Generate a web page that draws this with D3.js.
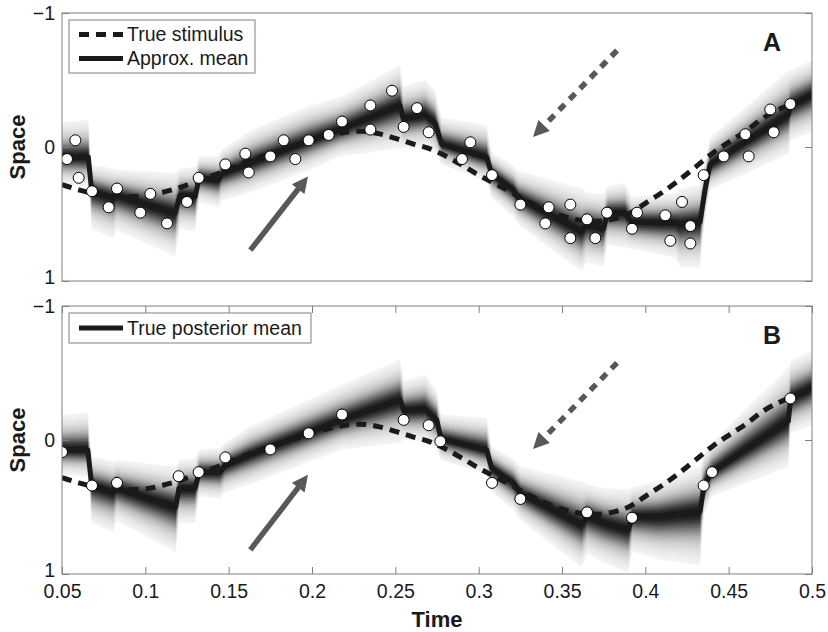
<!DOCTYPE html>
<html><head><meta charset="utf-8">
<script src="https://cdn.jsdelivr.net/npm/d3@7"></script>
<style>
body{margin:0;background:#fff}
text{font-family:"Liberation Sans",Arial,Helvetica,sans-serif}
</style>
</head><body>
<svg id="c" width="828" height="632"></svg>
<script>
// ---------------- data ----------------
const timeTicks = [0.05,0.1,0.15,0.2,0.25,0.3,0.35,0.4,0.45,0.5];
const spaceTicks = [-1,0,1];

// true stimulus (dashed)
const stimT = [0.050,0.060,0.070,0.080,0.090,0.100,0.110,0.120,0.130,0.140,0.150,0.160,0.170,0.180,0.190,0.200,0.210,0.220,0.230,0.240,0.250,0.260,0.270,0.280,0.290,0.300,0.310,0.320,0.330,0.340,0.350,0.360,0.370,0.380,0.390,0.400,0.410,0.420,0.430,0.440,0.450,0.460,0.470,0.480,0.487];
const stimV = [0.28,0.32,0.35,0.365,0.37,0.365,0.34,0.305,0.26,0.215,0.165,0.115,0.07,0.03,-0.01,-0.05,-0.085,-0.11,-0.118,-0.10,-0.065,-0.025,0.01,0.066,0.135,0.21,0.275,0.34,0.41,0.47,0.515,0.545,0.555,0.54,0.50,0.42,0.34,0.25,0.15,0.05,-0.035,-0.115,-0.21,-0.28,-0.315];

// panel A observations
const obsAT = [0.053,0.058,0.060,0.068,0.078,0.083,0.097,0.103,0.113,0.125,0.132,0.148,0.160,0.162,0.175,0.183,0.190,0.198,0.210,0.218,0.235,0.235,0.248,0.255,0.263,0.270,0.290,0.295,0.308,0.325,0.340,0.342,0.355,0.355,0.365,0.370,0.377,0.392,0.395,0.412,0.415,0.422,0.427,0.427,0.435,0.447,0.460,0.462,0.475,0.477,0.487];
const obsAV = [0.09,-0.05,0.23,0.33,0.45,0.31,0.49,0.35,0.57,0.41,0.23,0.13,0.05,0.19,0.07,-0.05,0.09,-0.05,-0.09,-0.19,-0.31,-0.13,-0.42,-0.15,-0.29,-0.11,0.09,-0.035,0.21,0.43,0.57,0.45,0.43,0.68,0.54,0.68,0.49,0.61,0.49,0.51,0.70,0.41,0.59,0.72,0.21,0.07,-0.095,0.07,-0.28,-0.11,-0.32];

// panel A approximate mean and band extents (above / below the mean)
const meanAT = [0.050,0.0658,0.0678,0.0808,0.0828,0.1178,0.1208,0.1298,0.1324,0.1438,0.1458,0.1628,0.1978,0.2168,0.2528,0.2548,0.2678,0.2738,0.2778,0.3048,0.3078,0.3208,0.3238,0.3618,0.3648,0.3748,0.3774,0.3878,0.3918,0.4178,0.4208,0.4328,0.4358,0.4388,0.4858,0.4872,0.500];
const meanAV = [0.077,0.077,0.33,0.38,0.36,0.495,0.36,0.37,0.23,0.25,0.20,0.12,-0.045,-0.13,-0.31,-0.21,-0.24,-0.18,-0.02,0.077,0.20,0.32,0.38,0.63,0.58,0.61,0.49,0.49,0.56,0.565,0.575,0.56,0.32,0.13,-0.24,-0.31,-0.39];
const bandAUp = [0.26,0.28,0.20,0.22,0.19,0.30,0.20,0.22,0.16,0.18,0.18,0.24,0.26,0.24,0.30,0.24,0.26,0.24,0.20,0.24,0.16,0.18,0.20,0.32,0.24,0.26,0.20,0.22,0.19,0.22,0.26,0.28,0.22,0.20,0.33,0.26,0.26];
const bandADown = [0.20,0.22,0.28,0.30,0.26,0.32,0.25,0.26,0.18,0.20,0.20,0.22,0.22,0.20,0.32,0.22,0.24,0.22,0.15,0.18,0.18,0.20,0.20,0.30,0.28,0.28,0.24,0.26,0.20,0.26,0.32,0.34,0.22,0.19,0.29,0.26,0.28];

// panel B observations
const obsBT = [0.050,0.068,0.083,0.120,0.132,0.148,0.175,0.198,0.218,0.255,0.270,0.277,0.308,0.325,0.365,0.392,0.435,0.440,0.487];
const obsBV = [0.09,0.34,0.32,0.27,0.24,0.13,0.07,-0.05,-0.19,-0.15,-0.11,0.01,0.32,0.44,0.54,0.58,0.34,0.24,-0.31];

// panel B true posterior mean and band extents
const meanBT = [0.050,0.0655,0.0678,0.0808,0.0828,0.1182,0.1202,0.1298,0.1324,0.1448,0.1478,0.1628,0.2178,0.2528,0.2552,0.2678,0.2748,0.2774,0.3048,0.3078,0.3208,0.3252,0.3618,0.3652,0.3758,0.3898,0.3922,0.4078,0.4328,0.4352,0.4398,0.4858,0.4872,0.500];
const meanBV = [0.075,0.075,0.34,0.39,0.36,0.50,0.36,0.36,0.24,0.24,0.19,0.11,-0.15,-0.30,-0.22,-0.23,-0.15,-0.01,0.075,0.21,0.32,0.40,0.63,0.57,0.62,0.67,0.57,0.57,0.535,0.34,0.24,-0.14,-0.31,-0.39];
const bandBUp = [0.26,0.28,0.22,0.23,0.21,0.30,0.21,0.22,0.17,0.18,0.17,0.21,0.26,0.30,0.22,0.26,0.22,0.18,0.24,0.16,0.18,0.20,0.32,0.24,0.26,0.30,0.22,0.26,0.34,0.24,0.22,0.40,0.28,0.28];
const bandBDown = [0.18,0.20,0.28,0.30,0.24,0.34,0.26,0.26,0.18,0.20,0.20,0.22,0.22,0.32,0.22,0.24,0.22,0.16,0.18,0.18,0.20,0.20,0.32,0.28,0.30,0.32,0.26,0.32,0.40,0.22,0.18,0.34,0.26,0.28];

// arrow annotations (data coordinates)
const arrowStartT = [0.163, 0.383];
const arrowEndT = [0.1976, 0.3326];
const arrowStartVA = [0.77, -0.72];
const arrowEndVA = [0.22, -0.075];
const arrowStartVB = [0.82, -0.575];
const arrowEndVB = [0.26, 0.067];
const arrowDashed = [false, true];

const legendLabelsA = ["True stimulus", "Approx. mean"];
const legendLabelsB = ["True posterior mean"];

// ---------------- drawing ----------------
const svg = d3.select("#c");
const X0 = 62, X1 = 812;
const FONT = 19.5;
const ink = "#1a1a1a", frameCol = "#808080", arrowCol = "#585858";
const x = d3.scaleLinear().domain([0.05, 0.5]).range([X0, X1]);

const panels = [
  {key:"A", top:13, bottom:281, obsT:obsAT, obsV:obsAV, mT:meanAT, mV:meanAV, up:bandAUp, dn:bandADown,
   aS:arrowStartVA, aE:arrowEndVA, legend:legendLabelsA, legendBox:[69,20,255,73], xAxis:false},
  {key:"B", top:306, bottom:574, obsT:obsBT, obsV:obsBV, mT:meanBT, mV:meanBV, up:bandBUp, dn:bandBDown,
   aS:arrowStartVB, aE:arrowEndVB, legend:legendLabelsB, legendBox:[69,313,311,343], xAxis:true}
];

// band layer opacities approximating the density shading (dark core, light tail)
const NL = 20;
const prof = f => 0.9 * (0.65*Math.exp(-f*f/(2*0.25*0.25)) + 0.35*Math.exp(-f*f/(2*0.5*0.5)));
const layerAlpha = [];
for (let j = 1; j <= NL; j++) {
  const tj = 1 - prof((j-0.5)/NL);
  const tn = j < NL ? 1 - prof((j+0.5)/NL) : 1;
  layerAlpha[j] = 1 - tj/tn;
}

const defs = svg.append("defs");

panels.forEach((p, pi) => {
  const y = d3.scaleLinear().domain([-1, 1]).range([p.top, p.bottom]);
  const g = svg.append("g");
  const clipId = "clip" + p.key;
  defs.append("clipPath").attr("id", clipId).append("rect")
    .attr("x", X0).attr("y", p.top).attr("width", X1-X0).attr("height", p.bottom-p.top);
  const plot = g.append("g").attr("clip-path", `url(#${clipId})`);

  // density band
  const idx = d3.range(p.mT.length);
  for (let j = NL; j >= 1; j--) {
    const k = j / NL;
    const area = d3.area()
      .x(i => x(p.mT[i]))
      .y0(i => y(p.mV[i] - p.up[i]*k))
      .y1(i => y(p.mV[i] + p.dn[i]*k));
    plot.append("path").attr("d", area(idx))
      .attr("fill", "#000").attr("fill-opacity", layerAlpha[j]);
  }

  // true stimulus
  const sIdx = d3.range(stimT.length);
  plot.append("path")
    .attr("d", d3.line().curve(d3.curveMonotoneX).x(i => x(stimT[i])).y(i => y(stimV[i]))(sIdx))
    .attr("fill", "none").attr("stroke", ink).attr("stroke-width", 5)
    .attr("stroke-dasharray", "10,7");

  // mean line
  plot.append("path")
    .attr("d", d3.line().x(i => x(p.mT[i])).y(i => y(p.mV[i]))(idx))
    .attr("fill", "none").attr("stroke", ink).attr("stroke-width", 5)
    .attr("stroke-linejoin", "round");

  // observations
  plot.selectAll("circle.obs").data(d3.range(p.obsT.length)).join("circle")
    .attr("class", "obs")
    .attr("cx", i => x(p.obsT[i])).attr("cy", i => y(p.obsV[i])).attr("r", 5.5)
    .attr("fill", "#fff").attr("stroke", "#000").attr("stroke-width", 1);

  // arrows
  arrowStartT.forEach((t0, ai) => {
    const x0 = x(t0), y0 = y(p.aS[ai]), x1 = x(arrowEndT[ai]), y1 = y(p.aE[ai]);
    const L = Math.hypot(x1-x0, y1-y0), ux = (x1-x0)/L, uy = (y1-y0)/L;
    const hl = 16, hw = 8;
    const bx = x1 - ux*hl, by = y1 - uy*hl;
    g.append("line").attr("x1", x0).attr("y1", y0).attr("x2", bx + ux*2).attr("y2", by + uy*2)
      .attr("stroke", arrowCol).attr("stroke-width", 5.5)
      .attr("stroke-dasharray", arrowDashed[ai] ? "8,7" : null);
    g.append("path")
      .attr("d", `M${x1},${y1}L${bx - uy*hw},${by + ux*hw}L${bx + uy*hw},${by - ux*hw}Z`)
      .attr("fill", arrowCol);
  });

  // frame
  g.append("rect").attr("x", X0).attr("y", p.top).attr("width", X1-X0).attr("height", p.bottom-p.top)
    .attr("fill", "none").attr("stroke", frameCol).attr("stroke-width", 1);

  const styleAxis = sel => {
    sel.select(".domain").remove();
    sel.selectAll(".tick line").attr("stroke", frameCol);
    sel.selectAll(".tick text").attr("fill", ink).style("font-size", FONT + "px")
      .style("font-family", '"Liberation Sans",Arial,sans-serif');
  };
  const fmtY = d3.format("d");
  g.append("g").attr("transform", `translate(${X0},0)`)
    .call(d3.axisLeft(y).tickValues(spaceTicks).tickSize(-7).tickPadding(7).tickFormat(fmtY))
    .call(styleAxis)
    .call(s => s.selectAll(".tick text").attr("dy", d => d === 1 ? "0.12em" : "0.32em"));
  g.append("g").attr("transform", `translate(${X1},0)`)
    .call(d3.axisRight(y).tickValues(spaceTicks).tickSize(-7).tickFormat(""))
    .call(styleAxis);
  if (p.xAxis) {
    g.append("g").attr("transform", `translate(0,${p.bottom})`)
      .call(d3.axisBottom(x).tickValues(timeTicks).tickSize(-7).tickPadding(10).tickFormat(d3.format("~g")))
      .call(styleAxis);
    g.append("g").attr("transform", `translate(0,${p.top})`)
      .call(d3.axisTop(x).tickValues(timeTicks).tickSize(-7).tickFormat(""))
      .call(styleAxis);
  }

  // y label
  g.append("text").attr("transform", `translate(17,${(p.top+p.bottom)/2}) rotate(-90)`)
    .attr("text-anchor", "middle").attr("dy", "0.35em")
    .style("font-size", "22px").style("font-weight", "bold").attr("fill", ink).text("Space");

  // panel letter
  g.append("text").attr("x", 772).attr("y", p.top + 38).attr("text-anchor", "middle")
    .style("font-size", "25px").style("font-weight", "bold").attr("fill", ink).text(p.key);

  // legend
  const [lx0, ly0, lx1, ly1] = p.legendBox;
  const lg = g.append("g");
  lg.append("rect").attr("x", lx0).attr("y", ly0).attr("width", lx1-lx0).attr("height", ly1-ly0)
    .attr("fill", "#fff").attr("stroke", frameCol).attr("stroke-width", 1);
  const rowH = 24;
  const firstY = ly0 + (ly1 - ly0 - rowH*(p.legend.length-1)) / 2;
  p.legend.forEach((lab, li) => {
    const cy = firstY + li*rowH;
    const dashed = (p.key === "A" && li === 0);
    lg.append("line").attr("x1", 79).attr("x2", 123).attr("y1", cy).attr("y2", cy)
      .attr("stroke", ink).attr("stroke-width", 5)
      .attr("stroke-dasharray", dashed ? "10,7" : null);
    lg.append("text").attr("x", 127).attr("y", cy).attr("dy", "0.35em")
      .style("font-size", FONT + "px").attr("fill", ink).text(lab);
  });
});

// x label
svg.append("text").attr("x", 437).attr("y", 627).attr("text-anchor", "middle")
  .style("font-size", "22px").style("font-weight", "bold").attr("fill", ink).text("Time");
</script>
</body></html>
